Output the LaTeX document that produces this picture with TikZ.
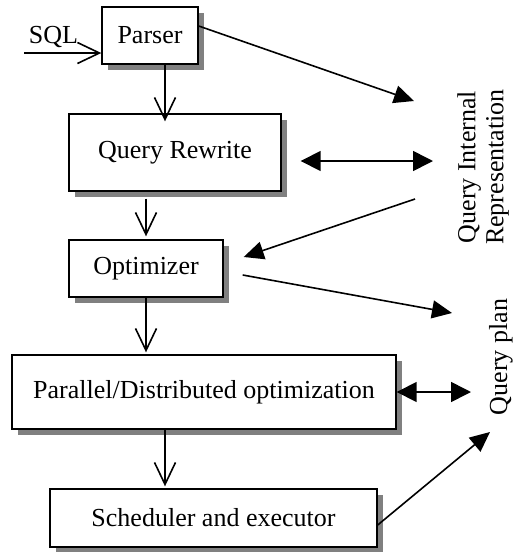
\documentclass[tikz,border=0pt]{standalone}
\usepackage{fontspec}
\setmainfont{Liberation Serif}
\usepackage{tikz}
\usetikzlibrary{arrows.meta,positioning,shadows}
\definecolor{Shade}{HTML}{808080}

\begin{document}
\begin{tikzpicture}[
  x=0.5pt, y=-0.5pt,
  font=\fontsize{13}{14}\selectfont,
  box/.style={draw, line width=0.7pt, fill=white, inner sep=0pt, align=center,
    drop shadow={shadow xshift=2.8pt, shadow yshift=-2.8pt, fill=Shade, opacity=1}},
  side/.style={inner sep=0pt, rotate=90, align=center},
  open/.style={-{Straight Barb[length=11pt, width=10.5pt]}, line width=0.8pt},
  headed/.style={-{Triangle[length=10pt, width=9pt]}, line width=0.8pt},
  both/.style={{Triangle[length=10pt, width=10pt]}-{Triangle[length=10pt, width=10pt]}, line width=0.8pt}
]
\useasboundingbox (0,0) rectangle (520,552);
\node[box, minimum width=48pt, minimum height=28.5pt] (parser) at (150,35.5) {Parser};
\node[box, minimum width=106pt, minimum height=38.5pt] (rewrite) at (175,152.5) {Query Rewrite};
\node[box, minimum width=77pt, minimum height=28.5pt] (optimizer) at (146,268.5) {Optimizer};
\node[box, minimum width=192pt, minimum height=37pt] (parallel) at (204,392) {Parallel/Distributed optimization};
\node[box, minimum width=163.5pt, minimum height=29pt] (scheduler) at (213.5,518) {Scheduler and executor};
\node[side] (qir) at (483,167) {Query Internal\\Representation};
\node[side] (qplan) at (501,357) {Query plan};
\coordinate (sqlin) at (24,53);
\coordinate (qirA) at (414,101);
\coordinate (qirB) at (433,161);
\coordinate (qirC) at (415,199);
\coordinate (qplanA) at (452,313);
\coordinate (qplanB) at (471,392);
\coordinate (qplanC) at (490,432);
\draw[open] (sqlin) -- node[above, pos=0.38, inner sep=2pt] {SQL} (sqlin -| parser.west);
\draw[open, shorten >=-4pt] ([xshift=7.5pt]parser.south) -- ([xshift=7.5pt]parser.south |- rewrite.north);
\draw[open, shorten <=3.5pt, shorten >=1.5pt] (rewrite.south -| optimizer.north) -- (optimizer.north);
\draw[open, shorten >=1pt] (optimizer.south) -- (optimizer.south |- parallel.north);
\draw[open, shorten >=1pt] ([xshift=-19.5pt]parallel.south) -- ([xshift=-19.5pt]parallel.south |- scheduler.north);
\draw[headed] ([yshift=4.75pt]parser.east) -- (qirA);
\draw[both] ([xshift=9.5pt, yshift=-4.25pt]rewrite.east) -- (qirB);
\draw[headed] (qirC) -- ([xshift=10pt, yshift=5.75pt]optimizer.east);
\draw[headed] ([xshift=9.5pt, yshift=-3.25pt]optimizer.east) -- (qplanA);
\draw[both] (parallel.east) -- (qplanB);
\draw[headed] ([yshift=-3.5pt]scheduler.east) -- (qplanC);
\end{tikzpicture}
\end{document}
